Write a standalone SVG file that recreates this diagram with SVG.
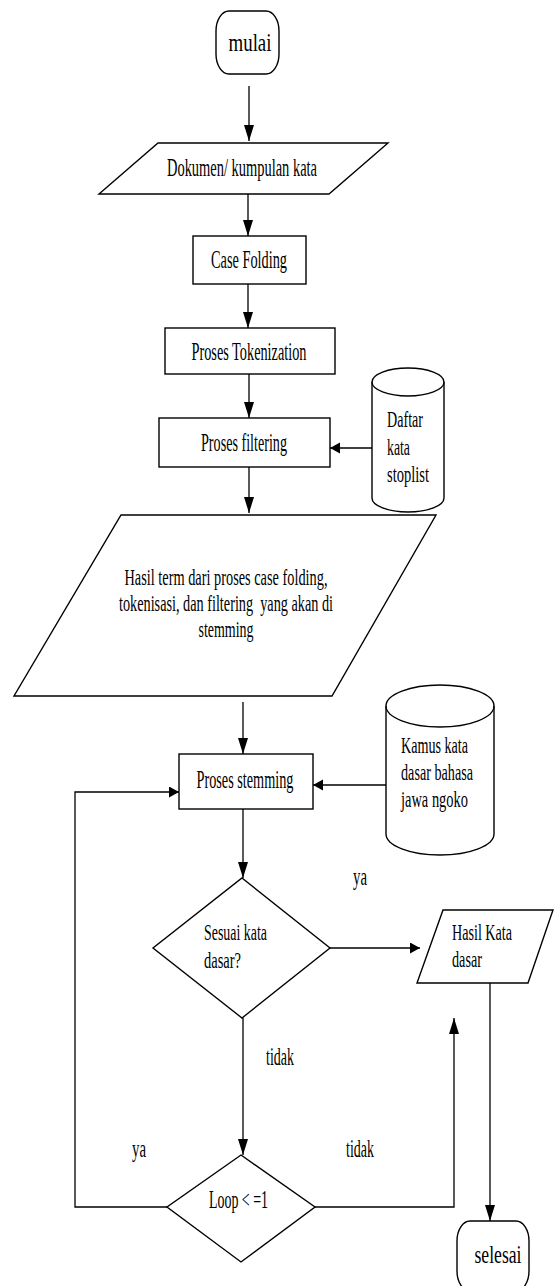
<svg xmlns="http://www.w3.org/2000/svg" width="554" height="1286" viewBox="0 0 554 1286">
<style>
.s{fill:#fff;stroke:#000;stroke-width:1.4}
.c{fill:none;stroke:#000;stroke-width:1.3}
text{font-family:"Liberation Serif","Times New Roman",serif;font-size:25px;fill:#000}
.ml{font-size:23px}
.m{text-anchor:middle}
</style>
<defs>
<marker id="av" markerUnits="userSpaceOnUse" markerWidth="18" markerHeight="12" refX="16" refY="5" orient="auto"><path d="M0,0 L16,5 L0,10 z" fill="#000"/></marker>
<marker id="ah" markerUnits="userSpaceOnUse" markerWidth="12" markerHeight="12" refX="10" refY="5.5" orient="auto"><path d="M0,0 L10,5.5 L0,11 z" fill="#000"/></marker>
</defs>
<rect width="554" height="1286" fill="#fff"/>
<g id="connectors">
<line class="c" x1="249" y1="86" x2="249" y2="141" marker-end="url(#av)"/>
<line class="c" x1="248" y1="194" x2="248" y2="236" marker-end="url(#av)"/>
<line class="c" x1="248" y1="284" x2="248" y2="328" marker-end="url(#av)"/>
<line class="c" x1="249" y1="374" x2="249" y2="418" marker-end="url(#av)"/>
<line class="c" x1="372" y1="448" x2="330" y2="448" marker-end="url(#ah)"/>
<line class="c" x1="249" y1="467" x2="249" y2="513" marker-end="url(#av)"/>
<line class="c" x1="243" y1="702" x2="243" y2="754" marker-end="url(#av)"/>
<line class="c" x1="386" y1="785" x2="313" y2="785" marker-end="url(#ah)"/>
<line class="c" x1="243" y1="809" x2="243" y2="878" marker-end="url(#av)"/>
<line class="c" x1="330" y1="948" x2="420" y2="948" marker-end="url(#ah)"/>
<line class="c" x1="243" y1="1018" x2="243" y2="1155" marker-end="url(#av)"/>
<polyline class="c" points="167,1207 75,1207 75,792 179,792" marker-end="url(#ah)"/>
<polyline class="c" points="315,1207 454,1207 454,1018" marker-end="url(#av)"/>
<line class="c" x1="490" y1="983" x2="490" y2="1221" marker-end="url(#av)"/>
</g>
<g id="mulai">
<rect class="s" x="216" y="11" width="63" height="63" rx="13" ry="20"/>
<text class="m" x="250" y="51" textLength="43" lengthAdjust="spacingAndGlyphs">mulai</text>
</g>
<g id="dokumen">
<polygon class="s" points="158,143 388,143 329,194 99,194"/>
<text class="m" x="242" y="176" textLength="150" lengthAdjust="spacingAndGlyphs">Dokumen/ kumpulan kata</text>
</g>
<g id="casefolding">
<rect class="s" x="193" y="236" width="113" height="48"/>
<text class="m" x="249" y="268" textLength="76" lengthAdjust="spacingAndGlyphs">Case Folding</text>
</g>
<g id="tokenization">
<rect class="s" x="165" y="328" width="170" height="46"/>
<text class="m" x="249" y="360" textLength="115" lengthAdjust="spacingAndGlyphs">Proses Tokenization</text>
</g>
<g id="filtering">
<rect class="s" x="159" y="418" width="171" height="49"/>
<text class="m" x="244" y="451" textLength="86" lengthAdjust="spacingAndGlyphs">Proses filtering</text>
</g>
<g id="stoplist">
<path class="s" d="M372,382 L372,498 A36,14 0 0 0 444,498 L444,382 A36,14 0 0 0 372,382 z"/>
<path class="c" d="M372,382 A36,14 0 0 0 444,382"/>
<text class="ml" x="387" y="427" textLength="36" lengthAdjust="spacingAndGlyphs">Daftar</text>
<text class="ml" x="387" y="455" textLength="23" lengthAdjust="spacingAndGlyphs">kata</text>
<text class="ml" x="387" y="482" textLength="42" lengthAdjust="spacingAndGlyphs">stoplist</text>
</g>
<g id="hasilterm">
<polygon class="s" points="121,515 436,515 332,696 14,696"/>
<text class="m ml" x="226" y="585" textLength="203" lengthAdjust="spacingAndGlyphs">Hasil term dari proses case folding,</text>
<text class="m ml" x="226" y="611" textLength="214" lengthAdjust="spacingAndGlyphs" style="white-space:pre">tokenisasi, dan filtering  yang akan di</text>
<text class="m ml" x="226" y="637" textLength="55" lengthAdjust="spacingAndGlyphs">stemming</text>
</g>
<g id="stemming">
<rect class="s" x="179" y="754" width="134" height="55"/>
<text class="m" x="245" y="788" textLength="97" lengthAdjust="spacingAndGlyphs">Proses stemming</text>
</g>
<g id="kamus">
<path class="s" d="M386,706 L386,834 A54,21 0 0 0 494,834 L494,706 A54,21 0 0 0 386,706 z"/>
<path class="c" d="M386,706 A54,21 0 0 0 494,706"/>
<text class="ml" x="401" y="753" textLength="67" lengthAdjust="spacingAndGlyphs">Kamus kata</text>
<text class="ml" x="401" y="780" textLength="72" lengthAdjust="spacingAndGlyphs">dasar bahasa</text>
<text class="ml" x="401" y="807" textLength="67" lengthAdjust="spacingAndGlyphs">jawa ngoko</text>
</g>
<g id="sesuai">
<polygon class="s" points="242,878 330,948 242,1018 153,948"/>
<text class="ml" x="204" y="940" textLength="63" lengthAdjust="spacingAndGlyphs">Sesuai kata</text>
<text class="ml" x="204" y="968" textLength="37" lengthAdjust="spacingAndGlyphs">dasar?</text>
</g>
<g id="hasilkata">
<polygon class="s" points="443,910 553,910 528,983 417,983"/>
<text class="ml" x="452" y="940" textLength="60" lengthAdjust="spacingAndGlyphs">Hasil Kata</text>
<text class="ml" x="452" y="967" textLength="30" lengthAdjust="spacingAndGlyphs">dasar</text>
</g>
<g id="loop">
<polygon class="s" points="241,1155 315,1207 241,1262 167,1207"/>
<text x="209" y="1208" textLength="59" lengthAdjust="spacingAndGlyphs">Loop &lt; =1</text>
</g>
<g id="selesai">
<rect class="s" x="457" y="1221" width="72" height="70" rx="13" ry="20"/>
<text class="m" x="498" y="1263" textLength="47" lengthAdjust="spacingAndGlyphs">selesai</text>
</g>
<g id="labels">
<text x="353" y="885" textLength="14" lengthAdjust="spacingAndGlyphs">ya</text>
<text x="266" y="1065" textLength="28" lengthAdjust="spacingAndGlyphs">tidak</text>
<text x="132" y="1157" textLength="14" lengthAdjust="spacingAndGlyphs">ya</text>
<text x="346" y="1157" textLength="28" lengthAdjust="spacingAndGlyphs">tidak</text>
</g>
</svg>
